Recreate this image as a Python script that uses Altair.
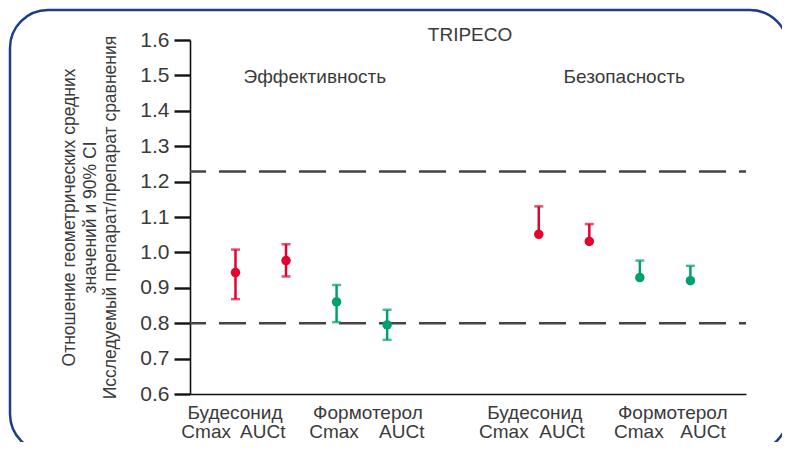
import altair as alt
import pandas as pd

# ---- data ----
positions = [1, 2, 3, 4, 7, 8, 9, 10]
drugs = ["Будесонид", "Будесонид", "Формотерол", "Формотерол",
         "Будесонид", "Будесонид", "Формотерол", "Формотерол"]
ratio = [0.943, 0.977, 0.860, 0.795, 1.051, 1.031, 0.929, 0.920]
ci_low = [0.868, 0.932, 0.803, 0.753, None, None, None, None]
ci_high = [1.008, 1.023, 0.908, 0.838, 1.130, 1.080, 0.977, 0.962]

limits = [1.2285, 0.80]

group_names = ["Будесонид", "Формотерол", "Будесонид", "Формотерол"]
group_x = [0.99, 3.62, 6.92, 9.65]
param_names = ["Cmax", "AUCt", "Cmax", "AUCt", "Cmax", "AUCt", "Cmax", "AUCt"]
param_x = [0.42, 1.54, 2.95, 4.29, 6.31, 7.46, 8.98, 10.25]

section_names = ["Эффективность", "Безопасность"]
section_x = [2.57, 8.69]
chart_title = "TRIPECO"
chart_title_x = 5.64

y_ticks = [0.6, 0.7, 0.8, 0.9, 1.0, 1.1, 1.2, 1.3, 1.4, 1.5, 1.6]

RED = "#e4032e"
GREEN = "#00a070"
TXT = "#3a3a3a"
FONT = "Liberation Sans"

pts = pd.DataFrame({
    "pos": positions, "drug": drugs, "ratio": ratio,
    "lo": [l if l is not None else r for l, r in zip(ci_low, ratio)],
    "hi": ci_high,
})
caps = pd.DataFrame(
    [{"pos": p, "v": h, "drug": d} for p, h, d in zip(positions, ci_high, drugs)]
    + [{"pos": p, "v": l, "drug": d} for p, l, d in zip(positions, ci_low, drugs) if l is not None]
)
lim_df = pd.DataFrame({"v": limits})
grp_df = pd.DataFrame({"x": group_x, "t": group_names, "y": [0.5463] * 4})
par_df = pd.DataFrame({"x": param_x, "t": param_names, "y": [0.4925] * 8})
sec_df = pd.DataFrame({"x": section_x, "t": section_names, "y": [1.4955] * 2})
ttl_df = pd.DataFrame({"x": [chart_title_x], "t": [chart_title], "y": [1.614]})

xscale = alt.Scale(domain=[0.1, 11.1], nice=False, zero=False)
yscale = alt.Scale(domain=[0.6, 1.6], nice=False, zero=False)
color = alt.Color("drug:N", scale=alt.Scale(domain=["Будесонид", "Формотерол"], range=[RED, GREEN]), legend=None)

x_axis = alt.Axis(title=None, labels=False, ticks=False, grid=False,
                  domainColor="#111", domainWidth=1.6)
y_axis = alt.Axis(
    values=y_ticks, tickCount=11, format=".1f", grid=False, labelOverlap=False,
    title=["Отношение геометрических средних", "значений и 90% CI",
           "Исследуемый препарат/препарат сравнения"],
    titleFont=FONT, titleFontSize=17.5, titleFontWeight="normal", titleColor=TXT,
    titlePadding=20, titleLineHeight=20.5,
    labelFont=FONT, labelFontSize=21, labelColor=TXT, labelPadding=5,
    tickSize=16, tickWidth=2.4, tickColor="#111",
    domainColor="#111", domainWidth=1.6)


def X(field):
    return alt.X(field, scale=xscale, axis=x_axis)


def Y(field):
    return alt.Y(field, scale=yscale, axis=y_axis)


border = alt.Chart(pd.DataFrame({"a": [0]})).mark_rect(
    fill=None, stroke="#1d3f85", strokeWidth=2.5, cornerRadius=38
).encode(x=alt.value(-180), x2=alt.value(598), y=alt.value(-30), y2=alt.value(412))

anchor = alt.Chart(pts).mark_point(opacity=0).encode(x=X("pos:Q"), y=Y("ratio:Q"))

limits_layer = alt.Chart(lim_df).mark_rule(
    color="#444", strokeWidth=2.5, strokeDash=[27, 13], strokeDashOffset=20
).encode(y=Y("v:Q"))

whisk = alt.Chart(pts).mark_rule(strokeWidth=2.5).encode(
    x=X("pos:Q"), y=Y("lo:Q"), y2="hi:Q", color=color
)
cap = alt.Chart(caps).mark_tick(orient="horizontal", size=9, thickness=2.5).encode(
    x=X("pos:Q"), y=Y("v:Q"), color=color
)
dots = alt.Chart(pts).mark_circle(size=90, opacity=1).encode(
    x=X("pos:Q"), y=Y("ratio:Q"), color=color
)


def text_layer(df, size):
    return alt.Chart(df).mark_text(font=FONT, fontSize=size, color=TXT, baseline="middle", align="center").encode(
        x=X("x:Q"), y=Y("y:Q"), text="t:N"
    )


chart = alt.layer(
    border, anchor, limits_layer, whisk, cap, dots,
    text_layer(grp_df, 19), text_layer(par_df, 19),
    text_layer(sec_df, 19), text_layer(ttl_df, 19),
).properties(
    width=556, height=354,
    autosize=alt.AutoSizeParams(type="none"),
    padding={"left": 182, "top": 32, "right": 36, "bottom": 48},
    background="white",
).configure_view(stroke=None)

chart.save("out.html", embed_options={"renderer": "svg", "actions": False})
